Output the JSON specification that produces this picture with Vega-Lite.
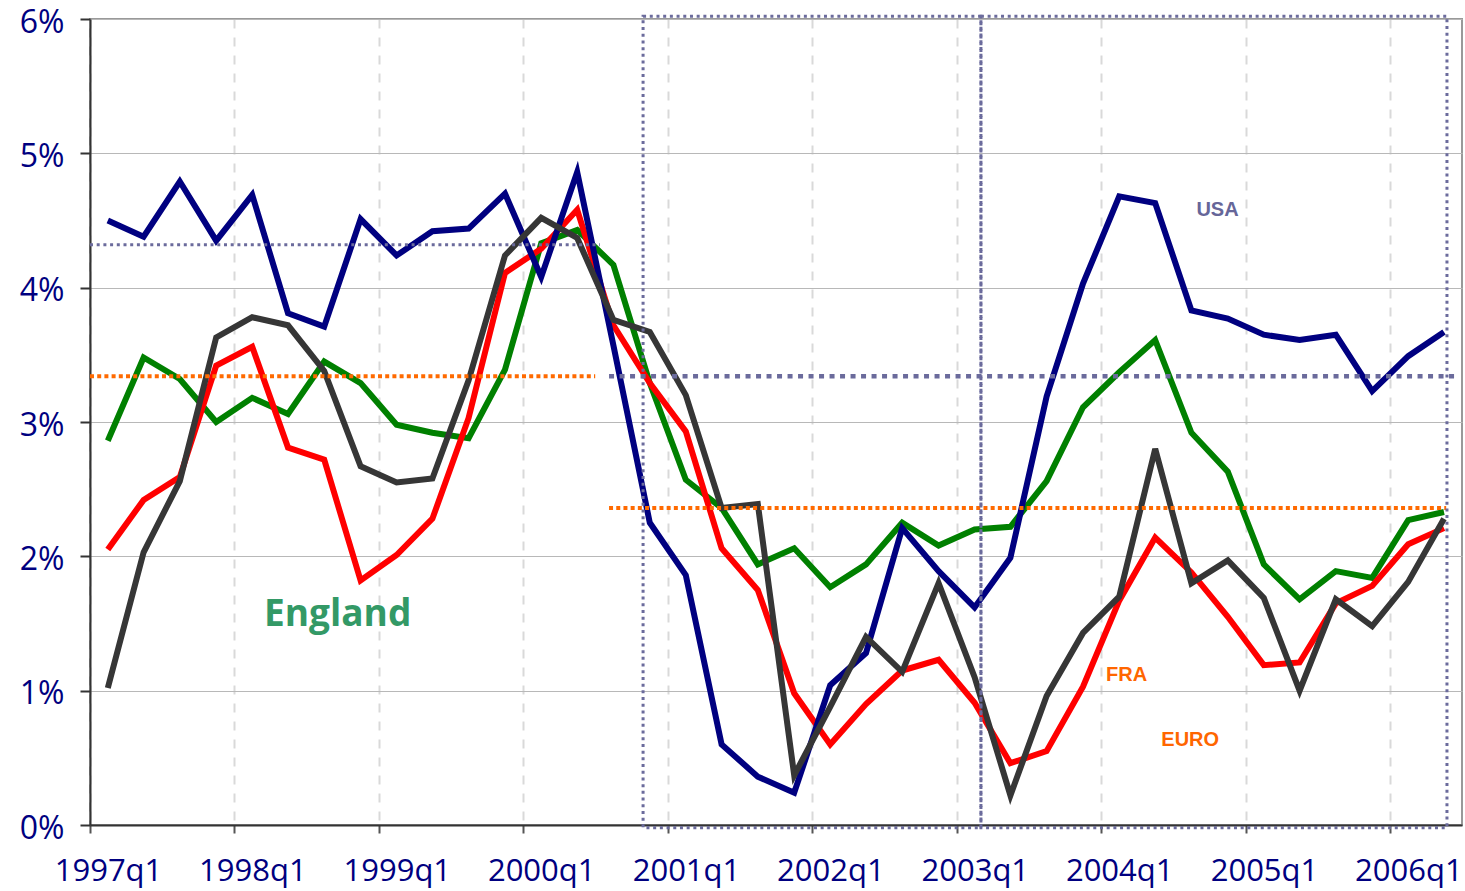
{
  "$schema": "https://vega.github.io/schema/vega-lite/v6.json",
  "width": 1372,
  "height": 806,
  "autosize": "none",
  "padding": {"left": 90, "top": 19, "right": 3, "bottom": 66},
  "background": "white",
  "config": {
    "view": {"stroke": "#999999", "strokeWidth": 2},
    "font": "Open Sans"
  },
  "datasets": {
    "rates": [
      {"q": "1997-01-01", "USA": 4.50, "FRA": 2.05, "England": 2.86, "EURO": 1.02},
      {"q": "1997-04-01", "USA": 4.38, "FRA": 2.42, "England": 3.48, "EURO": 2.03},
      {"q": "1997-07-01", "USA": 4.79, "FRA": 2.59, "England": 3.32, "EURO": 2.56},
      {"q": "1997-10-01", "USA": 4.35, "FRA": 3.42, "England": 3.00, "EURO": 3.63},
      {"q": "1998-01-01", "USA": 4.69, "FRA": 3.56, "England": 3.18, "EURO": 3.78},
      {"q": "1998-04-01", "USA": 3.81, "FRA": 2.81, "England": 3.06, "EURO": 3.72},
      {"q": "1998-07-01", "USA": 3.71, "FRA": 2.72, "England": 3.45, "EURO": 3.38},
      {"q": "1998-10-01", "USA": 4.51, "FRA": 1.82, "England": 3.29, "EURO": 2.67},
      {"q": "1999-01-01", "USA": 4.24, "FRA": 2.01, "England": 2.98, "EURO": 2.55},
      {"q": "1999-04-01", "USA": 4.42, "FRA": 2.28, "England": 2.92, "EURO": 2.58},
      {"q": "1999-07-01", "USA": 4.44, "FRA": 3.03, "England": 2.88, "EURO": 3.31},
      {"q": "1999-10-01", "USA": 4.70, "FRA": 4.11, "England": 3.39, "EURO": 4.24},
      {"q": "2000-01-01", "USA": 4.08, "FRA": 4.29, "England": 4.33, "EURO": 4.52},
      {"q": "2000-04-01", "USA": 4.86, "FRA": 4.58, "England": 4.43, "EURO": 4.37},
      {"q": "2000-07-01", "USA": 3.57, "FRA": 3.72, "England": 4.17, "EURO": 3.76},
      {"q": "2000-10-01", "USA": 2.25, "FRA": 3.29, "England": 3.29, "EURO": 3.67},
      {"q": "2001-01-01", "USA": 1.86, "FRA": 2.93, "England": 2.57, "EURO": 3.20},
      {"q": "2001-04-01", "USA": 0.60, "FRA": 2.06, "England": 2.36, "EURO": 2.36},
      {"q": "2001-07-01", "USA": 0.36, "FRA": 1.75, "England": 1.94, "EURO": 2.39},
      {"q": "2001-10-01", "USA": 0.24, "FRA": 0.98, "England": 2.06, "EURO": 0.37},
      {"q": "2002-01-01", "USA": 1.04, "FRA": 0.60, "England": 1.77, "EURO": 0.88},
      {"q": "2002-04-01", "USA": 1.28, "FRA": 0.90, "England": 1.94, "EURO": 1.40},
      {"q": "2002-07-01", "USA": 2.21, "FRA": 1.15, "England": 2.25, "EURO": 1.14},
      {"q": "2002-10-01", "USA": 1.89, "FRA": 1.23, "England": 2.08, "EURO": 1.80},
      {"q": "2003-01-01", "USA": 1.62, "FRA": 0.91, "England": 2.20, "EURO": 1.10},
      {"q": "2003-04-01", "USA": 1.99, "FRA": 0.46, "England": 2.22, "EURO": 0.22},
      {"q": "2003-07-01", "USA": 3.19, "FRA": 0.55, "England": 2.56, "EURO": 0.96},
      {"q": "2003-10-01", "USA": 4.03, "FRA": 1.03, "England": 3.11, "EURO": 1.43},
      {"q": "2004-01-01", "USA": 4.68, "FRA": 1.67, "England": 3.37, "EURO": 1.70},
      {"q": "2004-04-01", "USA": 4.63, "FRA": 2.14, "England": 3.61, "EURO": 2.80},
      {"q": "2004-07-01", "USA": 3.83, "FRA": 1.88, "England": 2.92, "EURO": 1.80},
      {"q": "2004-10-01", "USA": 3.77, "FRA": 1.55, "England": 2.63, "EURO": 1.97},
      {"q": "2005-01-01", "USA": 3.65, "FRA": 1.19, "England": 1.94, "EURO": 1.69},
      {"q": "2005-04-01", "USA": 3.61, "FRA": 1.21, "England": 1.68, "EURO": 1.00},
      {"q": "2005-07-01", "USA": 3.65, "FRA": 1.65, "England": 1.89, "EURO": 1.68},
      {"q": "2005-10-01", "USA": 3.23, "FRA": 1.78, "England": 1.84, "EURO": 1.48},
      {"q": "2006-01-01", "USA": 3.49, "FRA": 2.09, "England": 2.27, "EURO": 1.81},
      {"q": "2006-04-01", "USA": 3.67, "FRA": 2.21, "England": 2.33, "EURO": 2.28}
    ],
    "refs": [
      {"series": "USA", "phase": "early", "start": "1997-01-01", "end": "2000-07-13", "level": 4.32},
      {"series": "USA", "phase": "late", "start": "2000-08-05", "end": "2006-06-18", "level": 3.34},
      {"series": "EURO", "phase": "early", "start": "1997-01-01", "end": "2000-07-01", "level": 3.34},
      {"series": "EURO", "phase": "late", "start": "2000-08-05", "end": "2006-05-22", "level": 2.36}
    ],
    "windows": [
      {"from": "2000-10-30", "to": "2003-03-03"},
      {"from": "2003-03-03", "to": "2006-05-24"}
    ],
    "notes": [
      {"label": "USA", "d": "2004-10-21", "v": 4.58},
      {"label": "FRA", "d": "2004-03-05", "v": 1.117},
      {"label": "EURO", "d": "2004-08-13", "v": 0.635},
      {"label": "England", "d": "1998-09-19", "v": 1.56}
    ]
  },
  "layer": [
    {
      "data": {"name": "rates"},
      "transform": [{"fold": ["England", "FRA", "USA", "EURO"], "as": ["series", "value"]}],
      "mark": {"type": "line", "strokeWidth": 6, "clip": false},
      "encoding": {
        "x": {
          "field": "q", "timeUnit": "utcyearquarter", "type": "temporal", "bandPosition": 0.5,
          "scale": {"type": "utc", "domain": [{"year": 1997, "month": 1, "date": 1, "utc": true}, {"year": 2006, "month": 7, "date": 1, "utc": true}]},
          "axis": {
            "title": null,
            "values": [
              {"year": 1997, "month": 1, "date": 1, "utc": true},
              {"year": 1998, "month": 1, "date": 1, "utc": true},
              {"year": 1999, "month": 1, "date": 1, "utc": true},
              {"year": 2000, "month": 1, "date": 1, "utc": true},
              {"year": 2001, "month": 1, "date": 1, "utc": true},
              {"year": 2002, "month": 1, "date": 1, "utc": true},
              {"year": 2003, "month": 1, "date": 1, "utc": true},
              {"year": 2004, "month": 1, "date": 1, "utc": true},
              {"year": 2005, "month": 1, "date": 1, "utc": true},
              {"year": 2006, "month": 1, "date": 1, "utc": true}
            ],
            "labelExpr": "utcFormat(datum.value, '%Y') + 'q1'",
            "labelOffset": 18,
            "labelAngle": 0,
            "labelFont": "Open Sans",
            "labelFontSize": 31,
            "labelColor": "#000080",
            "labelPadding": 23,
            "labelOverlap": false,
            "labelFlush": false,
            "labelBound": false,
            "tickSize": 8,
            "tickColor": "#555555",
            "tickWidth": 2,
            "domainColor": "#333333",
            "domainWidth": 2,
            "grid": true,
            "gridColor": "#d9d9d9",
            "gridWidth": 2,
            "gridDash": [9, 9]
          }
        },
        "y": {
          "field": "value", "type": "quantitative",
          "scale": {"domain": [0, 6], "nice": false, "zero": true},
          "axis": {
            "title": null,
            "values": [0, 1, 2, 3, 4, 5, 6],
            "labelExpr": "datum.value + '%'",
            "labelFont": "Open Sans",
            "labelFontSize": 32,
            "labelColor": "#000080",
            "labelPadding": 16,
            "labelOffset": 3,
            "labelFlush": false,
            "labelBound": false,
            "tickSize": 10,
            "tickColor": "#333333",
            "tickWidth": 2,
            "domainColor": "#333333",
            "domainWidth": 2,
            "grid": true,
            "gridColor": "#b8b8b8",
            "gridWidth": 1
          }
        },
        "color": {
          "field": "series", "type": "nominal",
          "scale": {"domain": ["England", "FRA", "USA", "EURO"], "range": ["#008000", "#FF0000", "#000080", "#363636"]},
          "legend": null
        }
      }
    },
    {
      "data": {"name": "refs"},
      "transform": [{"filter": "datum.series == 'USA' && datum.phase == 'early'"}],
      "mark": {"type": "rule", "color": "#6b6b9c", "strokeWidth": 3, "strokeDash": [3, 3.7]},
      "encoding": {
        "x": {"field": "start", "type": "temporal", "scale": {"type": "utc"}, "axis": {"title": null}},
        "x2": {"field": "end"},
        "y": {"field": "level", "type": "quantitative", "axis": {"title": null}}
      }
    },
    {
      "data": {"name": "refs"},
      "transform": [{"filter": "datum.series == 'USA' && datum.phase == 'late'"}],
      "mark": {"type": "rule", "color": "#6b6b9c", "strokeWidth": 4.5, "strokeDash": [5, 5.5]},
      "encoding": {
        "x": {"field": "start", "type": "temporal", "scale": {"type": "utc"}, "axis": {"title": null}},
        "x2": {"field": "end"},
        "y": {"field": "level", "type": "quantitative", "axis": {"title": null}}
      }
    },
    {
      "data": {"name": "refs"},
      "transform": [{"filter": "datum.series == 'EURO'"}],
      "mark": {"type": "rule", "color": "#ff6a00", "strokeWidth": 4, "strokeDash": [4, 3.2]},
      "encoding": {
        "x": {"field": "start", "type": "temporal", "scale": {"type": "utc"}, "axis": {"title": null}},
        "x2": {"field": "end"},
        "y": {"field": "level", "type": "quantitative", "axis": {"title": null}}
      }
    },
    {
      "data": {"name": "windows"},
      "mark": {"type": "rect", "filled": false, "stroke": "#6b6b9c", "strokeWidth": 3, "strokeDash": [3, 3.7], "clip": false},
      "encoding": {
        "x": {"field": "from", "type": "temporal", "scale": {"type": "utc"}, "axis": {"title": null}},
        "x2": {"field": "to"},
        "y": {"datum": 6.02, "type": "quantitative", "axis": {"title": null}},
        "y2": {"datum": -0.02}
      }
    },
    {
      "data": {"name": "notes"},
      "transform": [{"filter": "datum.label == 'England'"}],
      "mark": {"type": "text", "font": "Open Sans", "fontWeight": "bold", "fontSize": 37, "color": "#339966", "align": "center", "baseline": "middle"},
      "encoding": {
        "x": {"field": "d", "type": "temporal", "scale": {"type": "utc"}, "axis": {"title": null}},
        "y": {"field": "v", "type": "quantitative", "axis": {"title": null}},
        "text": {"field": "label"}
      }
    },
    {
      "data": {"name": "notes"},
      "transform": [{"filter": "datum.label == 'USA'"}],
      "mark": {"type": "text", "font": "Liberation Sans", "fontWeight": "bold", "fontSize": 20, "color": "#666699", "align": "center", "baseline": "middle"},
      "encoding": {
        "x": {"field": "d", "type": "temporal", "scale": {"type": "utc"}, "axis": {"title": null}},
        "y": {"field": "v", "type": "quantitative", "axis": {"title": null}},
        "text": {"field": "label"}
      }
    },
    {
      "data": {"name": "notes"},
      "transform": [{"filter": "datum.label == 'FRA' || datum.label == 'EURO'"}],
      "mark": {"type": "text", "font": "Liberation Sans", "fontWeight": "bold", "fontSize": 20, "color": "#ff6600", "align": "center", "baseline": "middle"},
      "encoding": {
        "x": {"field": "d", "type": "temporal", "scale": {"type": "utc"}, "axis": {"title": null}},
        "y": {"field": "v", "type": "quantitative", "axis": {"title": null}},
        "text": {"field": "label"}
      }
    }
  ]
}
